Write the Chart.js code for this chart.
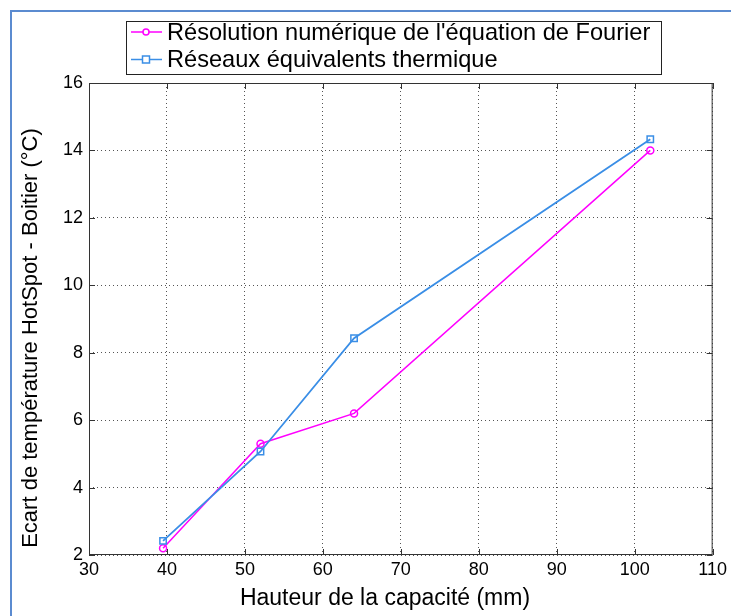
<!DOCTYPE html>
<html>
<head>
<meta charset="utf-8">
<script src="https://cdn.jsdelivr.net/npm/chart.js@4"></script>
<style>
  body { margin: 0; background: #fff; }
  #wrap { position: relative; width: 731px; height: 616px; overflow: hidden; }
  #edge { position: absolute; left: 10px; top: 10px; width: 760px; height: 640px;
          border-left: 2px solid #5b8bd0; border-top: 2px solid #5b8bd0; pointer-events: none; }
</style>
</head>
<body>
<div id="wrap">
  <canvas id="chart" width="731" height="616"></canvas>
  <div id="edge"></div>
</div>
<script>
// values
const heights = [39.5, 52, 64, 102];
const fourier = [2.2, 5.3, 6.2, 14.0];
const reseaux = [2.42, 5.07, 8.43, 14.33];
const seriesNames = ["Résolution numérique de l'équation de Fourier", 'Réseaux équivalents thermique'];
const xTitle = 'Hauteur de la capacité (mm)';
const yTitle = 'Ecart de température HotSpot - Boitier (°C)';

const FONT = "'Liberation Sans', Arial, sans-serif";
const MAGENTA = '#ff00ff';
const BLUE = '#3a8ee6';

const toPoints = (xs, ys) => xs.map((x, i) => ({ x: x, y: ys[i] }));

// box round the plot with small inward ticks, like matlab
const framePlugin = {
    id: 'frame',
    beforeDatasetsDraw(chart) {
        const { ctx, chartArea: a, scales } = chart;
        ctx.save();
        ctx.strokeStyle = '#333';
        ctx.lineWidth = 1;
        ctx.setLineDash([]);
        ctx.strokeRect(a.left + 0.5, a.top + 0.5, a.right - a.left - 1, a.bottom - a.top - 1);
        ctx.beginPath();
        scales.x.ticks.forEach(t => {
            const px = Math.round(scales.x.getPixelForValue(t.value)) + 0.5;
            ctx.moveTo(px, a.bottom); ctx.lineTo(px, a.bottom - 6);
            ctx.moveTo(px, a.top); ctx.lineTo(px, a.top + 6);
        });
        scales.y.ticks.forEach(t => {
            const py = Math.round(scales.y.getPixelForValue(t.value)) + 0.5;
            ctx.moveTo(a.left, py); ctx.lineTo(a.left + 6, py);
            ctx.moveTo(a.right, py); ctx.lineTo(a.right - 6, py);
        });
        ctx.stroke();

        // axis titles, placed where the original figure has them (not centred on the plot)
        ctx.fillStyle = '#000';
        ctx.textAlign = 'center';
        ctx.textBaseline = 'middle';
        ctx.font = '23px ' + FONT;
        ctx.fillText(xTitle, 385, 599);
        ctx.translate(31, 338);
        ctx.rotate(-Math.PI / 2);
        ctx.font = '22px ' + FONT;
        ctx.fillText(yTitle, 0, 0);
        ctx.restore();
    }
};

// legend in a box at the top, left of centre
const legendBox = {
    id: 'legendBox',
    afterDraw(chart) {
        const { ctx } = chart;
        const x0 = 126, y0 = 21, w = 535, h = 53;
        ctx.save();
        ctx.fillStyle = '#fff';
        ctx.fillRect(x0, y0, w, h);
        ctx.strokeStyle = '#222';
        ctx.lineWidth = 1;
        ctx.strokeRect(x0 + 0.5, y0 + 0.5, w, h);
        chart.data.datasets.forEach((ds, i) => {
            const cy = y0 + 11 + i * 27.5;
            ctx.strokeStyle = ds.borderColor;
            ctx.lineWidth = 1.5;
            ctx.beginPath();
            ctx.moveTo(x0 + 5, cy); ctx.lineTo(x0 + 36, cy);
            ctx.stroke();
            ctx.fillStyle = '#fff';
            if (ds.pointStyle === 'rect') {
                ctx.fillRect(x0 + 16.5, cy - 3.5, 7, 7);
                ctx.strokeRect(x0 + 16.5, cy - 3.5, 7, 7);
            } else {
                ctx.beginPath();
                ctx.arc(x0 + 20, cy, 3, 0, Math.PI * 2);
                ctx.fill(); ctx.stroke();
            }
            ctx.fillStyle = '#000';
            ctx.font = '23.6px ' + FONT;
            ctx.textBaseline = 'middle';
            ctx.fillText(ds.label, x0 + 41, cy + 1);
        });
        ctx.restore();
    }
};

new Chart(document.getElementById('chart'), {
    type: 'scatter',
    data: {
        datasets: [
            {
                label: seriesNames[0],
                data: toPoints(heights, fourier),
                showLine: true,
                borderColor: MAGENTA,
                backgroundColor: 'rgba(0,0,0,0)',
                borderWidth: 1.5,
                pointStyle: 'circle',
                pointRadius: 3.5,
                pointBorderWidth: 1.5,
                order: 2
            },
            {
                label: seriesNames[1],
                data: toPoints(heights, reseaux),
                showLine: true,
                borderColor: BLUE,
                backgroundColor: 'rgba(0,0,0,0)',
                borderWidth: 1.8,
                pointStyle: 'rect',
                pointRadius: 4.5,
                pointBorderWidth: 1.5,
                order: 1
            }
        ]
    },
    options: {
        responsive: false,
        animation: false,
        layout: { padding: { top: 83, right: 18, bottom: 0, left: 0 } },
        plugins: {
            legend: { display: false },
            tooltip: { enabled: false }
        },
        scales: {
            x: {
                type: 'linear',
                min: 30,
                max: 110,
                afterFit(scale) { scale.height = 61; },
                ticks: { stepSize: 10, color: '#000', padding: 4, font: { family: FONT, size: 18 } },
                grid: { color: '#555', drawTicks: false, lineWidth: 1 },
                border: { display: false, dash: [1, 3] },
                title: { display: false }
            },
            y: {
                min: 2,
                max: 16,
                afterFit(scale) { scale.width = 89; },
                ticks: { stepSize: 2, color: '#000', padding: 6, font: { family: FONT, size: 18 } },
                grid: { color: '#555', drawTicks: false, lineWidth: 1 },
                border: { display: false, dash: [1, 3] },
                title: { display: false }
            }
        }
    },
    plugins: [framePlugin, legendBox]
});
</script>
</body>
</html>
